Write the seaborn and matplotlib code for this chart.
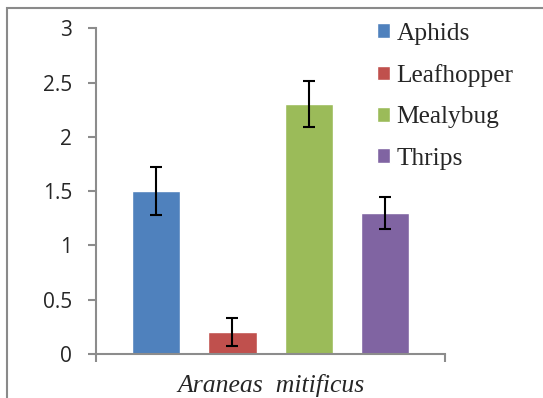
import numpy as np
import pandas as pd
import seaborn as sns
import matplotlib.pyplot as plt
from matplotlib.patches import Rectangle

species = ["Araneas  mitificus"]
prey = ["Aphids", "Leafhopper", "Mealybug", "Thrips"]
means = [1.5, 0.2, 2.3, 1.3]
errors = [0.22, 0.13, 0.21, 0.15]
colors = ["#4F81BD", "#C0504D", "#9BBB59", "#8064A2"]
yticks = [0, 0.5, 1, 1.5, 2, 2.5, 3]
ytick_labels = ["0", "0.5", "1", "1.5", "2", "2.5", "3"]

df = pd.DataFrame({"species": species * len(prey), "prey": prey, "mean": means})

sns.set_style("white")
fig = plt.figure(figsize=(5.43, 3.98), dpi=100)
ax = fig.add_axes([0.1773, 0.1106, 0.6422, 0.8183])

sns.barplot(data=df, x="species", y="mean", hue="prey", hue_order=prey,
            palette=colors, width=0.875, gap=0.37, saturation=1,
            errorbar=None, ax=ax)

# error bars at the centres of the drawn bars
for bar, err in zip(ax.patches[:len(prey)], errors):
    cx = bar.get_x() + bar.get_width() / 2
    ax.errorbar(cx, bar.get_height(), yerr=err, fmt="none", ecolor="black",
                elinewidth=1.5, capsize=4.3, capthick=1.5)

ax.set_ylim(0, 3)
ax.set_xlim(-0.5, 0.5)
ax.set_yticks(yticks)
ax.set_yticklabels(ytick_labels, fontfamily="Open Sans", fontsize=15)
ax.set_ylabel("")
ax.set_xlabel("")

spine_col = "#8c8c8c"
for side in ["top", "right"]:
    ax.spines[side].set_visible(False)
for side in ["left", "bottom"]:
    ax.spines[side].set_color(spine_col)
    ax.spines[side].set_linewidth(1.5)

ax.tick_params(axis="y", direction="out", length=6, width=1.5, color=spine_col,
               pad=11.5, left=True)
ax.tick_params(axis="x", length=0, pad=14.5)
for lbl in ax.get_xticklabels():
    lbl.set_fontfamily(["Liberation Serif", "DejaVu Serif"])
    lbl.set_fontstyle("italic")
    lbl.set_fontsize(18.5)
ax.set_xticks([-0.5, 0.5], minor=True)
ax.tick_params(axis="x", which="minor", direction="out", length=6, width=1.5,
               color=spine_col, bottom=True)

leg = ax.legend(loc="upper left", bbox_to_anchor=(0.694, 0.943),
                bbox_transform=fig.transFigure, frameon=False,
                prop={"family": ["Liberation Serif", "DejaVu Serif"], "size": 18.3},
                handlelength=0.52, handleheight=0.52, handletextpad=0.26,
                labelspacing=0.76, borderaxespad=0, borderpad=0)

fig.add_artist(Rectangle((7.3 / 543, -0.2), 1.2, 1.2 - 7.7 / 398,
                         transform=fig.transFigure, fill=False,
                         edgecolor="#8a8a8a", linewidth=1.5))

fig.savefig("out.png", dpi=100)
